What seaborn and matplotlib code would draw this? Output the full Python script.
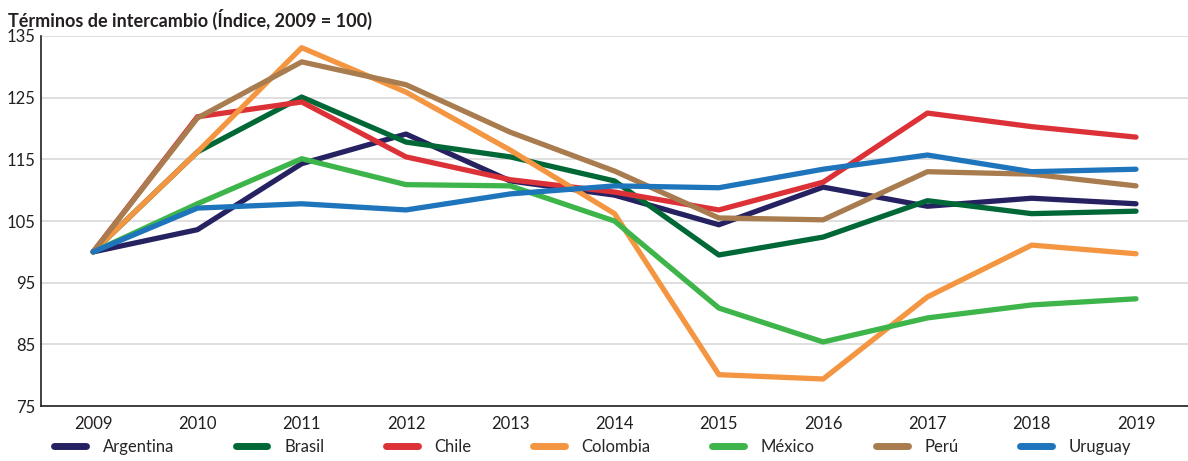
import pandas as pd
import numpy as np
import seaborn as sns
import matplotlib.pyplot as plt

# %% data
years = [2009, 2010, 2011, 2012, 2013, 2014, 2015, 2016, 2017, 2018, 2019]
argentina = [100, 103.6, 114.3, 119.1, 111.5, 109.2, 104.4, 110.5, 107.4, 108.7, 107.8]
brasil = [100, 116.2, 125.1, 117.8, 115.4, 111.5, 99.5, 102.4, 108.3, 106.2, 106.6]
chile = [100, 121.9, 124.3, 115.4, 111.7, 109.7, 106.8, 111.3, 122.5, 120.3, 118.6]
colombia = [100, 116.2, 133.1, 125.9, 116.5, 106.2, 80.1, 79.4, 92.7, 101.1, 99.7]
mexico = [100, 107.8, 115.1, 110.9, 110.7, 105.0, 90.9, 85.4, 89.3, 91.4, 92.4]
peru = [100, 121.7, 130.8, 127.1, 119.4, 113.1, 105.5, 105.2, 113.0, 112.6, 110.7]
uruguay = [100, 107.1, 107.8, 106.8, 109.4, 110.7, 110.4, 113.4, 115.7, 113.0, 113.4]

countries = ["Argentina", "Brasil", "Chile", "Colombia", "México", "Perú", "Uruguay"]
colors = ["#262262", "#006837", "#DC3237", "#F49641", "#3DB54A", "#A97C50", "#1E75BB"]
series = [argentina, brasil, chile, colombia, mexico, peru, uruguay]

df = pd.concat(
    [pd.DataFrame({"year": years, "value": v, "country": c}) for c, v in zip(countries, series)]
)

# %% plot
sns.set_style("white")
plt.rcParams["font.family"] = ["Lato", "DejaVu Sans"]

fig = plt.figure(figsize=(11.88, 4.61), dpi=100)
ax = fig.add_axes([0.0345, 0.119, 0.97, 0.803])

sns.lineplot(
    data=df, x="year", y="value", hue="country",
    palette=dict(zip(countries, colors)), hue_order=countries,
    linewidth=3.8, solid_capstyle="round", ax=ax, zorder=3,
)

ax.set_xlim(2008.5, 2019.55)
ax.set_ylim(75, 135)
ax.set_yticks(np.arange(75, 136, 10))
ax.set_xticks(years)
ax.tick_params(axis="both", length=0, labelsize=12, colors="#231f20")
ax.tick_params(axis="x", pad=7)
ax.tick_params(axis="y", pad=4)
ax.yaxis.grid(True, color="#d9d9d9", linewidth=1.2)
ax.set_axisbelow(True)
for s in ["top", "right"]:
    ax.spines[s].set_visible(False)
for s in ["left", "bottom"]:
    ax.spines[s].set_color("#231f20")
    ax.spines[s].set_linewidth(1.2)
ax.set_xlabel("")
ax.set_ylabel("")

fig.text(0.007, 0.958, "Términos de intercambio (Índice, 2009 = 100)",
         fontsize=13, fontweight="bold", color="#231f20", va="center")

handles, labels = ax.get_legend_handles_labels()
ax.get_legend().remove()
leg = fig.legend(
    handles, labels, loc="center", bbox_to_anchor=(0.499, 0.03), ncol=7, frameon=False,
    fontsize=12, handlelength=1.9, handletextpad=1.0, columnspacing=3.7,
    borderaxespad=0, borderpad=0,
)
for line in leg.get_lines():
    line.set_linewidth(5)
    line.set_solid_capstyle("round")

fig.savefig("out.png", dpi=100)
